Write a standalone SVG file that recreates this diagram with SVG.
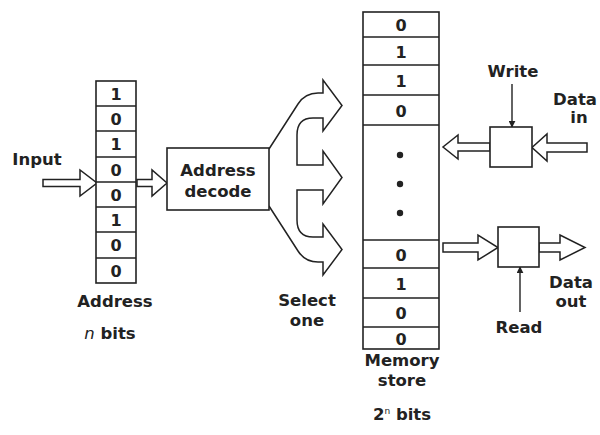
<svg xmlns="http://www.w3.org/2000/svg" width="600" height="435" viewBox="0 0 600 435">
<style>
.t{font-family:"DejaVu Sans",sans-serif;font-weight:bold;font-size:16.5px;fill:#222;text-anchor:middle}
.d{font-size:16px}
.b{fill:#fff;stroke:#222;stroke-width:1.6}
.ln{stroke:#222;stroke-width:1.4;fill:none}
.ha{fill:#fff;stroke:#222;stroke-width:1.5;stroke-linejoin:miter}
</style>
<defs>
<marker id="ah" viewBox="0 0 10 10" refX="9" refY="5" markerWidth="7" markerHeight="7" markerUnits="userSpaceOnUse" orient="auto">
<path d="M0,0 L10,5 L0,10 z" fill="#222"/>
</marker>
</defs>
<rect width="600" height="435" fill="#fff"/>
<g id="connectors">
<polygon class="ha" points="43,179.5 80,179.5 80,170 97,183 80,196 80,186.5 43,186.5"/>
<polygon class="ha" points="137,179.5 152,179.5 152,170 167,183 152,196 152,186.5 137,186.5"/>
<path id="select-fan" class="ha" d="M269,149 L298,104 Q305,93 318,93 L323,93 L323,80 L342,105.5 L323,131 L323,118 L313,118 Q297,118 297,135 L297,165 L323,165 L323,151 L342,177.5 L323,204 L323,190 L297,190 L297,220 Q297,237 313,237 L323,237 L323,224 L342,249.5 L323,275 L323,262 L318,262 Q305,262 298,251 L269,206"/>
<polygon class="ha" points="490,143 458,143 458,135 443,147 458,159 458,151 490,151"/>
<polygon class="ha" points="587,143 547,143 547,134 532,147.5 547,161 547,152 587,152"/>
<polygon class="ha" points="443,243 478,243 478,235 498,247.5 478,260 478,252 443,252"/>
<polygon class="ha" points="539,243 560,243 560,235 585,247.5 560,260 560,252 539,252"/>
<line class="ln" x1="512" y1="84" x2="512" y2="127" marker-end="url(#ah)"/>
<line class="ln" x1="520" y1="312" x2="520" y2="267" marker-end="url(#ah)"/>
</g>
<g id="address-register">
<rect class="b" x="96" y="81" width="40" height="202"/>
<path class="ln" d="M96,106 H136 M96,131 H136 M96,157 H136 M96,182 H136 M96,207 H136 M96,232 H136 M96,258 H136"/>
<text class="t d" x="116" y="99.5">1</text>
<text class="t d" x="116" y="124.5">0</text>
<text class="t d" x="116" y="149.5">1</text>
<text class="t d" x="116" y="175.5">0</text>
<text class="t d" x="116" y="200.5">0</text>
<text class="t d" x="116" y="225.5">1</text>
<text class="t d" x="116" y="250.5">0</text>
<text class="t d" x="116" y="276.5">0</text>
</g>
<g id="labels-left">
<text class="t" x="37" y="165">Input</text>
<text class="t" x="115" y="307">Address</text>
<text class="t" x="110" y="339"><tspan font-style="italic" font-weight="normal">n</tspan> bits</text>
<text class="t" x="307" y="306">Select</text>
<text class="t" x="307" y="326">one</text>
</g>
<g id="address-decode">
<rect class="b" x="167" y="148" width="102" height="62"/>
<text class="t" x="218" y="176">Address</text>
<text class="t" x="218" y="197">decode</text>
</g>
<g id="memory-store">
<rect class="b" x="363" y="12" width="76" height="337"/>
<path class="ln" d="M363,37 H439 M363,65 H439 M363,95 H439 M363,125 H439 M363,240 H439 M363,268 H439 M363,298 H439 M363,327 H439"/>
<text class="t d" x="401" y="30.5">0</text>
<text class="t d" x="401" y="57.5">1</text>
<text class="t d" x="401" y="86.5">1</text>
<text class="t d" x="401" y="116.5">0</text>
<circle cx="400" cy="155" r="3.2" fill="#222"/>
<circle cx="400" cy="184" r="3.2" fill="#222"/>
<circle cx="400" cy="213" r="3.2" fill="#222"/>
<text class="t d" x="401" y="260.5">0</text>
<text class="t d" x="401" y="289.5">1</text>
<text class="t d" x="401" y="318.5">0</text>
<text class="t d" x="401" y="344.5">0</text>
<text class="t" x="402" y="366">Memory</text>
<text class="t" x="402" y="386">store</text>
<text class="t" x="402" y="420">2<tspan font-size="9" dy="-6" font-weight="normal">n</tspan><tspan dy="6"> bits</tspan></text>
</g>
<g id="write-gate">
<rect class="b" x="490" y="127" width="42" height="40"/>
<text class="t" x="513" y="77">Write</text>
<text class="t" x="575" y="105">Data</text>
<text class="t" x="579" y="123">in</text>
</g>
<g id="read-gate">
<rect class="b" x="498" y="227" width="41" height="40"/>
<text class="t" x="519" y="333">Read</text>
<text class="t" x="571" y="288">Data</text>
<text class="t" x="571" y="307">out</text>
</g>
</svg>
